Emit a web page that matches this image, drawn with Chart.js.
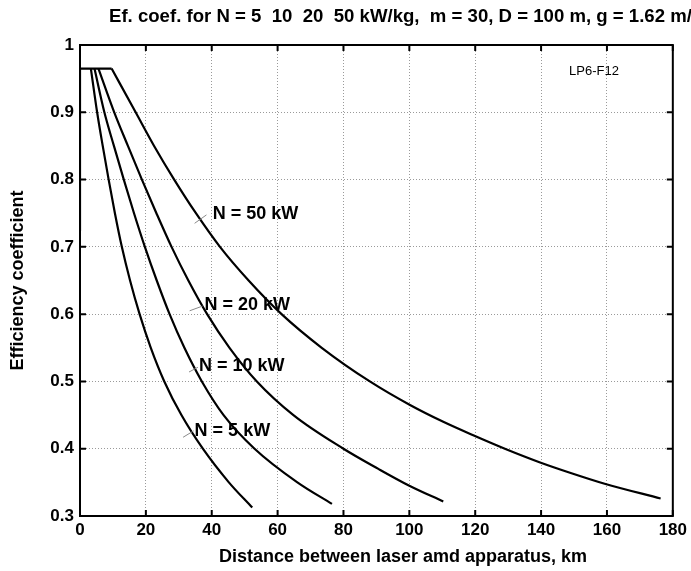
<!DOCTYPE html>
<html>
<head>
<meta charset="utf-8">
<script src="https://cdn.jsdelivr.net/npm/chart.js@4/dist/chart.umd.min.js"></script>
<style>
html,body{margin:0;padding:0;background:#fff;}
#wrap{width:691px;height:571px;}
</style>
</head>
<body>
<div id="wrap"><canvas id="c" width="691" height="571"></canvas></div>
<script>
// ---- data ----
const xTicks = [0, 20, 40, 60, 80, 100, 120, 140, 160, 180];
const yTicks = [0.3, 0.4, 0.5, 0.6, 0.7, 0.8, 0.9, 1];

// common saturated start (vertical rise at 0 km, then flat plateau)
const flatDist = [0, 0, 9.6];
const flatEff  = [0.724, 0.965, 0.965];

const dist5  = [3.3, 5.2, 6.9, 8.7, 10.6, 12.7, 15.2, 18.1, 21.5, 25.6, 30.8, 37.3, 45.2, 52.3];
const eff5   = [0.965, 0.9, 0.85, 0.8, 0.75, 0.7, 0.65, 0.6, 0.55, 0.5, 0.45, 0.4, 0.35, 0.3125];

const dist10 = [4.4, 7.4, 10.3, 13.3, 16.4, 19.7, 23.3, 27.2, 31.7, 37.0, 43.6, 53.0, 66.0, 76.5];
const eff10  = [0.965, 0.9, 0.85, 0.8, 0.75, 0.7, 0.65, 0.6, 0.55, 0.5, 0.45, 0.4, 0.35, 0.318];

const dist20 = [5.6, 10.4, 14.55, 18.8, 23.2, 27.8, 32.9, 38.6, 45.4, 53.7, 64.8, 80.0, 90.6, 100.0, 110.3];
const eff20  = [0.965, 0.9, 0.85, 0.8, 0.75, 0.7, 0.65, 0.6, 0.55, 0.5, 0.45, 0.4, 0.37, 0.345, 0.3215];

const dist50 = [9.6, 16.9, 22.5, 28.6, 35.2, 42.5, 51.2, 61.2, 73.4, 88.0, 100.2, 110.3, 119.4, 129.0, 139.5, 149.0, 159.3, 176.3];
const eff50  = [0.965, 0.9, 0.85, 0.8, 0.75, 0.7, 0.65, 0.6, 0.55, 0.5, 0.465, 0.44, 0.42, 0.4, 0.38, 0.364, 0.348, 0.326];

const seriesNames = ['N = 5 kW', 'N = 10 kW', 'N = 20 kW', 'N = 50 kW'];

const titleText = 'Ef. coef. for N = 5  10  20  50 kW/kg,  m = 30, D = 100 m, g = 1.62 m/s\u00B2';
const xTitle = 'Distance between laser amd apparatus, km';
const yTitle = 'Efficiency coefficient';
const tagText = 'LP6-F12';

// curve label annotations (data coordinates): text anchor and leader line
const labelPos = [
  {text: seriesNames[3], tx: 40.3, ty: 0.749, lx1: 34.8, ly1: 0.735, lx2: 38.4, ly2: 0.7475},
  {text: seriesNames[2], tx: 37.8, ty: 0.613, lx1: 33.3, ly1: 0.605, lx2: 37.2, ly2: 0.612},
  {text: seriesNames[1], tx: 36.1, ty: 0.523, lx1: 33.1, ly1: 0.514, lx2: 35.8, ly2: 0.521},
  {text: seriesNames[0], tx: 34.8, ty: 0.427, lx1: 31.3, ly1: 0.417, lx2: 34.5, ly2: 0.4265}
];

const FONT = '"Liberation Sans", Arial, Helvetica, sans-serif';

function pts(xs, ys){ return xs.map((x,i)=>({x:x, y:ys[i]})); }

function curve(label, xs, ys){
  return {label, data: pts(xs, ys), showLine: true, borderColor: '#000', borderWidth: 2.2,
          pointRadius: 0, fill: false, cubicInterpolationMode: 'monotone'};
}

const decor = {
  id: 'decor',
  afterDraw(chart){
    const ctx = chart.ctx, xs = chart.scales.x, ys = chart.scales.y;
    const a = chart.chartArea;
    ctx.save();
    // box
    ctx.strokeStyle = '#000'; ctx.lineWidth = 2;
    ctx.strokeRect(a.left, a.top, a.right - a.left, a.bottom - a.top);
    // inward ticks
    const tl = 6;
    ctx.beginPath();
    xTicks.forEach(v=>{
      const p = xs.getPixelForValue(v);
      ctx.moveTo(p, a.bottom); ctx.lineTo(p, a.bottom - tl);
      ctx.moveTo(p, a.top); ctx.lineTo(p, a.top + tl);
    });
    yTicks.forEach(v=>{
      const p = ys.getPixelForValue(v);
      ctx.moveTo(a.left, p); ctx.lineTo(a.left + tl, p);
      ctx.moveTo(a.right, p); ctx.lineTo(a.right - tl, p);
    });
    ctx.stroke();
    // curve labels
    labelPos.forEach(l=>{
      ctx.strokeStyle = '#8a8a8a'; ctx.lineWidth = 1;
      ctx.beginPath();
      ctx.moveTo(xs.getPixelForValue(l.lx1), ys.getPixelForValue(l.ly1));
      ctx.lineTo(xs.getPixelForValue(l.lx2), ys.getPixelForValue(l.ly2));
      ctx.stroke();
      ctx.fillStyle = '#000';
      ctx.font = 'bold 18px ' + FONT;
      ctx.textAlign = 'left'; ctx.textBaseline = 'middle';
      ctx.fillText(l.text, xs.getPixelForValue(l.tx), ys.getPixelForValue(l.ty));
    });
    // tag
    ctx.font = '13px ' + FONT;
    ctx.fillStyle = '#000';
    ctx.textAlign = 'left'; ctx.textBaseline = 'middle';
    ctx.fillText(tagText, 569, 71);
    // title (runs off the right edge as in the reference)
    ctx.font = 'bold 18.6px ' + FONT;
    ctx.fillText(titleText, 109, 17);
    // axis titles
    ctx.font = 'bold 18px ' + FONT;
    ctx.textAlign = 'center';
    ctx.fillText(xTitle, 403, 557);
    ctx.translate(18, (a.top + a.bottom) / 2);
    ctx.rotate(-Math.PI / 2);
    ctx.fillText(yTitle, 0, 0);
    ctx.restore();
  }
};

new Chart(document.getElementById('c'), {
  type: 'scatter',
  data: {
    datasets: [
      {label: 'start', data: pts(flatDist, flatEff), showLine: true, borderColor: '#000', borderWidth: 2.2,
       pointRadius: 0, fill: false, tension: 0},
      curve(seriesNames[0], dist5, eff5),
      curve(seriesNames[1], dist10, eff10),
      curve(seriesNames[2], dist20, eff20),
      curve(seriesNames[3], dist50, eff50)
    ]
  },
  options: {
    responsive: false,
    animation: false,
    devicePixelRatio: 1,
    layout: {padding: {top: 45, right: 15, left: 0, bottom: 0}},
    plugins: {legend: {display: false}, tooltip: {enabled: false}, title: {display: false}},
    scales: {
      x: {
        type: 'linear', min: 0, max: 180,
        afterBuildTicks: s => { s.ticks = xTicks.map(v=>({value:v})); },
        afterFit: s => { s.height = 55; },
        grid: {color: '#9a9a9a', lineWidth: 1, drawTicks: false},
        border: {display: false, dash: [1, 2]},
        ticks: {color: '#000', font: {family: FONT, size: 17, weight: 'bold'}, padding: 4, maxRotation: 0}
      },
      y: {
        type: 'linear', min: 0.3, max: 1,
        afterBuildTicks: s => { s.ticks = yTicks.map(v=>({value:v})); },
        afterFit: s => { s.width = 80; },
        grid: {color: '#9a9a9a', lineWidth: 1, drawTicks: false},
        border: {display: false, dash: [1, 2]},
        ticks: {color: '#000', font: {family: FONT, size: 17, weight: 'bold'}, padding: 6,
                callback: v => String(Math.round(v*10)/10)}
      }
    }
  },
  plugins: [decor]
});
</script>
</body>
</html>
